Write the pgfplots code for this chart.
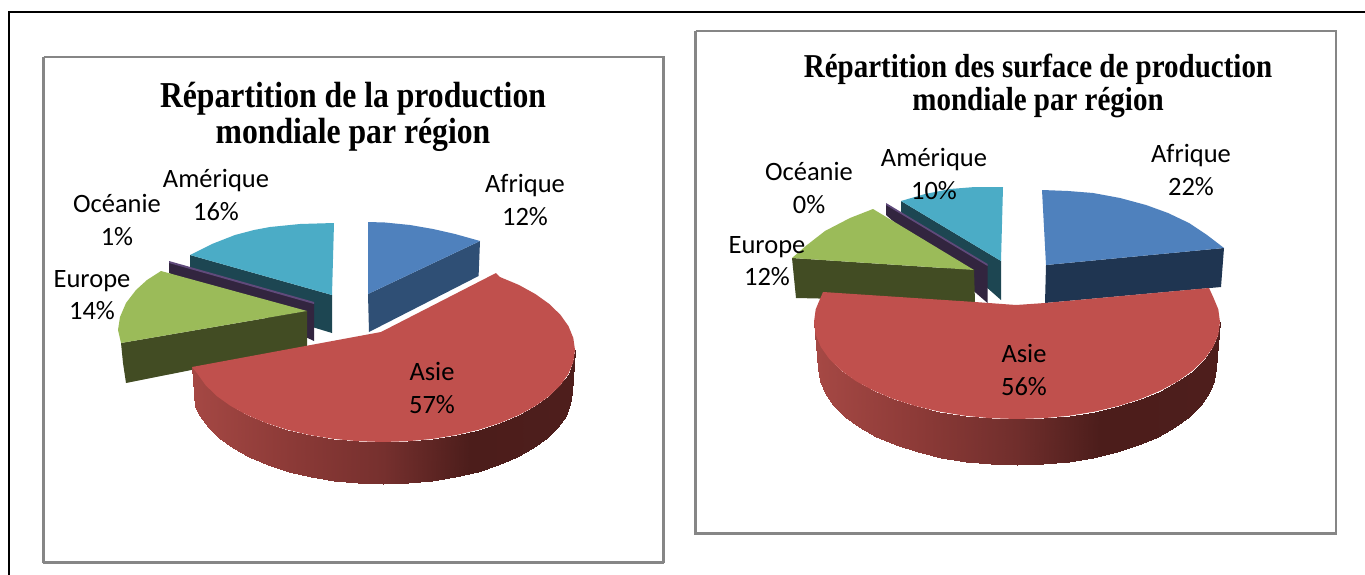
\documentclass[border=0pt]{standalone}
\usepackage{fontspec}
\setmainfont{Carlito}
\newfontfamily\titlefont{Liberation Serif}
\usepackage{pgfplots}
\pgfplotsset{compat=1.18}

\definecolor{framegray}{HTML}{868686}
\definecolor{afr}{HTML}{4F81BD}
\definecolor{afrside}{HTML}{2F4F75}
\definecolor{afrsideb}{HTML}{1F3551}
\definecolor{asie}{HTML}{C0504D}
\definecolor{eur}{HTML}{9BBB59}
\definecolor{eurside}{HTML}{424C23}
\definecolor{oce}{HTML}{604A7B}
\definecolor{oceside}{HTML}{32253F}
\definecolor{ame}{HTML}{4BACC6}
\definecolor{ameside}{HTML}{1D4652}

\pgfplotsset{
  slice/.style={draw=none,fill=#1,forget plot},
}
\tikzset{
  lab/.style={font=\fontsize{26.5}{32.5}\selectfont,align=center,text=black},
  ttl/.style={align=center,text=black},
}

\begin{document}
\begin{tikzpicture}
  \begin{axis}[
      scale only axis,
      width=1365pt,
      height=575pt,
      xmin=0,xmax=1365,
      ymin=0,ymax=575,
      y dir=reverse,
      hide axis,
      point meta min=192,
      point meta max=1216,
      colormap={sidered}{
        rgb255(192pt)=(165,72,68)
        rgb255(290pt)=(140,58,55)
        rgb255(383pt)=(118,48,46)
        rgb255(470pt)=(76,29,27)
        rgb255(575pt)=(78,30,28)
        rgb255(818pt)=(165,72,68)
        rgb255(920pt)=(140,58,55)
        rgb255(1017pt)=(112,46,44)
        rgb255(1100pt)=(76,29,27)
        rgb255(1216pt)=(78,30,28)
      },
    ]

    % page background and outer black frame
    \addplot[slice=white] coordinates {(0,0) (1365,0) (1365,575) (0,575)} -- cycle;
    \addplot[black,line width=1.6pt,forget plot] coordinates {(9,575) (9,12) (1365,12)};

    % panel frames
    \addplot[framegray,line width=2.2pt,forget plot] coordinates {(43.5,57) (663.5,57) (663.5,562) (43.5,562) (43.5,57)};
    \addplot[framegray,line width=3pt,forget plot] coordinates {(43,562) (664,562)};
    \addplot[framegray,line width=2.2pt,forget plot] coordinates {(695.5,31) (1336,31) (1336,533.5) (695.5,533.5) (695.5,31)};

    % ------------------------------------------------------------------
    % left pie: production
    % ------------------------------------------------------------------
    % Amerique
    \addplot[slice=ameside] coordinates {(190,255) (332,295) (332,333) (190,290)} -- cycle;
    \addplot[slice=ame] coordinates {(332,295) (334,223) (300,224) (270,227) (254,230) (235,235) (212,244) (190,255)} -- cycle;
    % Oceanie
    \addplot[slice=oceside] coordinates {(169,262) (314,303) (314,341) (169,273)} -- cycle;
    \addplot[slice=oce] coordinates {(169,261) (314,302) (314,304) (169,263)} -- cycle;
    % Europe
    \addplot[slice=eurside] coordinates {(121,343) (307,311) (307,347) (126,383) (123,363)} -- cycle;
    \addplot[slice=eur] coordinates {(307,311) (161,271) (147,280) (136,290) (126,303) (120,317) (118,330) (121,343)} -- cycle;
    % Afrique
    \addplot[slice=afrside] coordinates {(368,294) (480,241) (478.6,276) (369,332)} -- cycle;
    \addplot[slice=afr] coordinates {(368,294) (368,222) (385,222.5) (410,225) (433,229) (455,234) (480,241)} -- cycle;
    % Asie, side wall then top face
    \addplot[surf,shader=interp,mesh/rows=2,mesh/cols=24,point meta=x,forget plot] table {
      x y
      575 350
      573.3 362
      568.5 373.8
      560.4 385.2
      549.3 396
      535.3 406
      518.8 415.1
      499.9 423
      479 429.7
      456.5 435
      432.7 438.9
      408.1 441.2
      383 442
      357.9 441.2
      333.3 438.9
      309.5 435
      287 429.7
      266.1 423
      247.2 415.1
      230.7 406
      216.7 396
      205.6 385.2
      197.5 373.8
      192 367
      572 392
      570.4 404
      565.6 415.8
      557.6 427.2
      546.7 438
      533 448
      516.6 457.1
      498.1 465
      477.5 471.7
      455.3 477
      431.9 480.9
      407.7 483.2
      383 484
      358.3 483.2
      334.1 480.9
      310.7 477
      288.5 471.7
      267.9 465
      249.4 457.1
      233 448
      219.3 438
      208.4 427.2
      200.4 415.8
      195 407
    };
    \addplot[slice=asie] coordinates {
      (496,273) (499.9,277) (518.8,284.9) (535.3,294) (549.3,304) (560.4,314.8)
      (568.5,326.2) (573.3,338) (575,350) (573.3,362) (568.5,373.8) (560.4,385.2)
      (549.3,396) (535.3,406) (518.8,415.1) (499.9,423) (479,429.7) (456.5,435)
      (432.7,438.9) (408.1,441.2) (383,442) (357.9,441.2) (333.3,438.9) (309.5,435)
      (287,429.7) (266.1,423) (247.2,415.1) (230.7,406) (216.7,396) (205.6,385.2)
      (197.5,373.8) (192,367) (381,332)
    } -- cycle;

    % ------------------------------------------------------------------
    % right pie: surfaces
    % ------------------------------------------------------------------
    % Amerique
    \addplot[slice=ameside] coordinates {(901,201) (1001,261) (1001,300) (901,212)} -- cycle;
    \addplot[slice=ame] coordinates {(1001,261) (1003,187) (975,187) (950,189) (925,194) (901,201)} -- cycle;
    % Oceanie
    \addplot[slice=oceside] coordinates {(886,204) (987.5,265) (987.5,303) (886,215)} -- cycle;
    \addplot[slice=oce] coordinates {(886,203) (987.5,264) (987.5,266) (886,205)} -- cycle;
    % Europe
    \addplot[slice=eurside] coordinates {(792,258) (974,270) (975,302) (796,298)} -- cycle;
    \addplot[slice=eur] coordinates {(974,270) (873,209) (850,218) (825,231) (807,245) (792,258)} -- cycle;
    % Afrique
    \addplot[slice=afrsideb] coordinates {(1046,265) (1224,248) (1221,287) (1045,303)} -- cycle;
    \addplot[slice=afr] coordinates {(1046,265) (1042,190) (1068,191) (1093,193) (1120,198) (1146,205) (1168,213) (1189,223) (1207,235) (1224,248)} -- cycle;
    % Asie, side wall then top face
    \addplot[surf,shader=interp,mesh/rows=2,mesh/cols=25,point meta=x,forget plot] table {
      x y
      1220 322
      1218.3 334.7
      1213.1 347.1
      1204.6 359.1
      1192.8 370.5
      1178.1 381.1
      1160.5 390.6
      1140.6 399
      1118.5 406
      1094.7 411.6
      1069.5 415.7
      1043.5 418.2
      1017 419
      990.5 418.2
      964.5 415.7
      939.3 411.6
      915.5 406
      893.4 399
      873.5 390.6
      855.9 381.1
      841.2 370.5
      829.4 359.1
      820.9 347.1
      815.7 334.7
      814 322
      1216 368
      1214.3 380.7
      1209.2 393.1
      1200.9 405.1
      1189.3 416.5
      1174.9 427.1
      1157.7 436.6
      1138.2 445
      1116.5 452
      1093.2 457.6
      1068.5 461.7
      1043 464.2
      1017 465
      991 464.2
      965.5 461.7
      940.8 457.6
      917.5 452
      895.8 445
      876.3 436.6
      859.1 427.1
      844.7 416.5
      833.1 405.1
      824.8 393.1
      819.7 380.7
      818 368
    };
    \addplot[slice=asie] coordinates {
      (1209,288) (1213.1,296.9) (1218.3,309.3) (1220,322) (1218.3,334.7) (1213.1,347.1)
      (1204.6,359.1) (1192.8,370.5) (1178.1,381.1) (1160.5,390.6) (1140.6,399) (1118.5,406)
      (1094.7,411.6) (1069.5,415.7) (1043.5,418.2) (1017,419) (990.5,418.2) (964.5,415.7)
      (939.3,411.6) (915.5,406) (893.4,399) (873.5,390.6) (855.9,381.1) (841.2,370.5)
      (829.4,359.1) (820.9,347.1) (815.7,334.7) (814,322) (815.7,309.3) (820.9,296.9)
      (823,292) (975,302) (1016,305) (1045,303)
    } -- cycle;

    % ------------------------------------------------------------------
    % titles
    % ------------------------------------------------------------------
    \node[ttl,font=\titlefont\bfseries\fontsize{31.7}{31.5}\selectfont,yscale=1.15,transform shape] at (axis cs:353,117) {Répartition de la production\\mondiale par région};
    \node[ttl,font=\titlefont\bfseries\fontsize{29}{29}\selectfont,yscale=1.15,transform shape] at (axis cs:1038,86) {Répartition des surface de production\\mondiale par région};

    % ------------------------------------------------------------------
    % data labels
    % ------------------------------------------------------------------
    \node[lab] at (axis cs:525,200) {Afrique\\12\%};
    \node[lab] at (axis cs:432,388) {Asie\\57\%};
    \node[lab] at (axis cs:92,295) {Europe\\14\%};
    \node[lab] at (axis cs:117,220) {Océanie\\1\%};
    \node[lab] at (axis cs:216,195) {Amérique\\16\%};

    \node[lab] at (axis cs:1191,170) {Afrique\\22\%};
    \node[lab] at (axis cs:1024,370) {Asie\\56\%};
    \node[lab] at (axis cs:767,261) {Europe\\12\%};
    \node[lab] at (axis cs:809,188) {Océanie\\0\%};
    \node[lab] at (axis cs:934,174) {Amérique\\10\%};
  \end{axis}
\end{tikzpicture}
\end{document}
